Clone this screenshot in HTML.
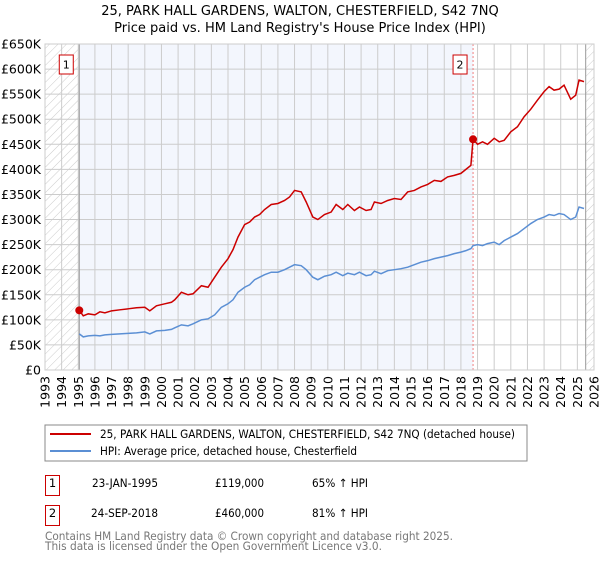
<!DOCTYPE html>
<html><head><meta charset="utf-8"><style>
body{margin:0;width:600px;height:560px;background:#fff;font-family:"DejaVu Sans","Liberation Sans",sans-serif;overflow:hidden}
svg text{font-family:"DejaVu Sans","Liberation Sans",sans-serif}
</style></head><body>
<svg id="c" width="600" height="560">
<defs><pattern id="hatch" patternUnits="userSpaceOnUse" width="6" height="6" patternTransform="rotate(45)"><line x1="0" y1="0" x2="0" y2="6" stroke="#ccc" stroke-width="1"/></pattern></defs>
<text x="300" y="15" text-anchor="middle" font-size="13">25, PARK HALL GARDENS, WALTON, CHESTERFIELD, S42 7NQ</text>
<text x="300" y="32" text-anchor="middle" font-size="13">Price paid vs. HM Land Registry's House Price Index (HPI)</text>
<g id="plot"></g>
<rect x="45" y="425" width="482" height="36" fill="#fff" stroke="#888"/>
<line x1="50" y1="434" x2="91" y2="434" stroke="#cc0000" stroke-width="2"/>
<text x="100" y="438" font-size="11.5" textLength="415" lengthAdjust="spacingAndGlyphs">25, PARK HALL GARDENS, WALTON, CHESTERFIELD, S42 7NQ (detached house)</text>
<line x1="50" y1="451" x2="91" y2="451" stroke="#5b8fd4" stroke-width="2"/>
<text x="100" y="455" font-size="11.5" textLength="257" lengthAdjust="spacingAndGlyphs">HPI: Average price, detached house, Chesterfield</text>
<rect x="45.5" y="475.5" width="14" height="20" fill="#fff" stroke="#cc0000"/>
<text x="52.5" y="487" text-anchor="middle" font-size="11.5">1</text>
<text x="92" y="487" font-size="11.5" textLength="66" lengthAdjust="spacingAndGlyphs">23-JAN-1995</text>
<text x="215" y="487" font-size="11.5" textLength="49" lengthAdjust="spacingAndGlyphs">£119,000</text>
<text x="312" y="487" font-size="11.5" textLength="56" lengthAdjust="spacingAndGlyphs">65% ↑ HPI</text>
<rect x="45.5" y="505.5" width="14" height="20" fill="#fff" stroke="#cc0000"/>
<text x="52.5" y="517" text-anchor="middle" font-size="11.5">2</text>
<text x="91" y="517" font-size="11.5" textLength="67" lengthAdjust="spacingAndGlyphs">24-SEP-2018</text>
<text x="215" y="517" font-size="11.5" textLength="49" lengthAdjust="spacingAndGlyphs">£460,000</text>
<text x="312" y="517" font-size="11.5" textLength="56" lengthAdjust="spacingAndGlyphs">81% ↑ HPI</text>
<text x="45" y="540" font-size="11.5" fill="#777" textLength="408" lengthAdjust="spacingAndGlyphs">Contains HM Land Registry data © Crown copyright and database right 2025.</text>
<text x="45" y="550" font-size="11.5" fill="#777" textLength="337" lengthAdjust="spacingAndGlyphs">This data is licensed under the Open Government Licence v3.0.</text>
</svg>
<script>
const yTicks=[0,50,100,150,200,250,300,350,400,450,500,550,600,650];
const yLabels=["£0","£50K","£100K","£150K","£200K","£250K","£300K","£350K","£400K","£450K","£500K","£550K","£600K","£650K"];
const xYears=[1993,1994,1995,1996,1997,1998,1999,2000,2001,2002,2003,2004,2005,2006,2007,2008,2009,2010,2011,2012,2013,2014,2015,2016,2017,2018,2019,2020,2021,2022,2023,2024,2025,2026];
const propDates=[1995.06,1995.3,1995.6,1996.0,1996.3,1996.6,1997.0,1997.5,1998.0,1998.5,1999.0,1999.3,1999.7,2000.2,2000.6,2000.8,2001.2,2001.6,2001.9,2002.4,2002.8,2003.2,2003.6,2004.0,2004.3,2004.6,2005.0,2005.3,2005.6,2005.9,2006.2,2006.6,2007.0,2007.4,2007.7,2008.0,2008.4,2008.7,2009.1,2009.4,2009.8,2010.2,2010.5,2010.9,2011.2,2011.6,2011.9,2012.3,2012.6,2012.8,2013.2,2013.6,2014.0,2014.4,2014.8,2015.2,2015.6,2016.0,2016.4,2016.8,2017.2,2017.6,2018.0,2018.3,2018.6,2018.73,2019.0,2019.3,2019.6,2020.0,2020.3,2020.6,2021.0,2021.4,2021.8,2022.2,2022.6,2023.0,2023.3,2023.6,2023.9,2024.2,2024.6,2024.9,2025.1,2025.4];
const propValues=[119,108,112,110,116,114,118,120,122,124,125,118,128,132,135,140,155,150,152,168,165,185,205,222,240,265,290,295,305,310,320,330,332,338,345,358,355,335,305,300,310,315,330,320,330,318,325,318,320,335,332,338,342,340,355,358,365,370,378,376,385,388,392,400,408,460,450,455,450,462,455,458,475,485,505,520,538,555,565,558,560,568,540,548,578,575];
const hpiDates=[1995.06,1995.3,1995.6,1996.0,1996.3,1996.6,1997.0,1997.5,1998.0,1998.5,1999.0,1999.3,1999.7,2000.2,2000.6,2000.8,2001.2,2001.6,2001.9,2002.4,2002.8,2003.2,2003.6,2004.0,2004.3,2004.6,2005.0,2005.3,2005.6,2005.9,2006.2,2006.6,2007.0,2007.4,2007.7,2008.0,2008.4,2008.7,2009.1,2009.4,2009.8,2010.2,2010.5,2010.9,2011.2,2011.6,2011.9,2012.3,2012.6,2012.8,2013.2,2013.6,2014.0,2014.4,2014.8,2015.2,2015.6,2016.0,2016.4,2016.8,2017.2,2017.6,2018.0,2018.3,2018.6,2018.73,2019.0,2019.3,2019.6,2020.0,2020.3,2020.6,2021.0,2021.4,2021.8,2022.2,2022.6,2023.0,2023.3,2023.6,2023.9,2024.2,2024.6,2024.9,2025.1,2025.4];
const hpiValues=[72,66,68,69,68,70,71,72,73,74,76,72,78,79,81,84,90,88,92,100,102,110,125,132,140,155,165,170,180,185,190,195,195,200,205,210,208,200,185,180,187,190,195,188,193,190,195,188,190,197,192,198,200,202,205,210,215,218,222,225,228,232,235,238,242,248,250,248,252,255,250,258,265,272,282,292,300,305,310,308,312,310,300,305,325,322];
const L=45,R=594,T=44,B=370,X0=1993,X1=2026,YM=650;
const xs=v=>L+(v-X0)/(X1-X0)*(R-L);
const ys=v=>B-v/YM*(B-T);
const NS='http://www.w3.org/2000/svg';
const g=document.getElementById('plot');
function mk(tag,attrs){const e=document.createElementNS(NS,tag);for(const k in attrs)e.setAttribute(k,attrs[k]);g.appendChild(e);return e;}
let e;
e=mk('rect',{x:xs(1995.06),y:T,width:xs(2018.73)-xs(1995.06),height:B-T,fill:'#f3f6fd'});


e=mk('rect',{x:L,y:T,width:xs(1995.06)-L,height:B-T,fill:'url(#hatch)'});


e=mk('rect',{x:xs(2025.5),y:T,width:R-xs(2025.5),height:B-T,fill:'url(#hatch)'});


yTicks.forEach((t,i)=>{
 e=mk('line',{x1:L,x2:R,y1:ys(t),y2:ys(t),stroke:'#ccc','stroke-width':1});
 
 
 e=mk('text',{x:L-4,y:ys(t)+4.5,'text-anchor':'end','font-size':12.5});
 e.textContent=yLabels[i];
 
 
});
xYears.forEach(yr=>{
 e=mk('line',{x1:xs(yr),x2:xs(yr),y1:T,y2:B,stroke:'#ccc','stroke-width':1});
 
 
 const x=xs(yr),y=B+6;
 e=mk('text',{x:x+4.5,y:y,'text-anchor':'end','font-size':12.5,transform:`rotate(-90 ${x+4.5} ${y})`});
 e.textContent=yr;
 
 
});
e=mk('line',{x1:xs(1995.06),x2:xs(1995.06),y1:T,y2:B,stroke:'#999','stroke-width':1});


e=mk('line',{x1:xs(2018.73),x2:xs(2018.73),y1:T,y2:B,stroke:'#f08080','stroke-width':1,'stroke-dasharray':'2,2'});


e=mk('line',{x1:xs(2025.5),x2:xs(2025.5),y1:T,y2:B,stroke:'#999','stroke-width':1});


e=mk('polyline',{points:hpiDates.map((d,i)=>xs(d)+','+ys(hpiValues[i])).join(' '),fill:'none',stroke:'#5b8fd4','stroke-width':1.5});


e=mk('polyline',{points:propDates.map((d,i)=>xs(d)+','+ys(propValues[i])).join(' '),fill:'none',stroke:'#cc0000','stroke-width':1.5});


const sales=[[1995.06,119,'1'],[2018.73,460,'2']];
sales.forEach(s=>{
 e=mk('circle',{cx:xs(s[0]),cy:ys(s[1]),r:4,fill:'#cc0000'});
 
 
 const bx=xs(s[0])-20;
 e=mk('rect',{x:bx,y:55,width:14,height:19,fill:'#fff',stroke:'#cc0000'});
 
 
 e=mk('text',{x:bx+7,y:68.5,'text-anchor':'middle','font-size':11});
 e.textContent=s[2];
 
 
});
e=mk('rect',{x:L,y:T,width:R-L,height:B-T,fill:'none',stroke:'#ccc'});


</script>
</body></html>
